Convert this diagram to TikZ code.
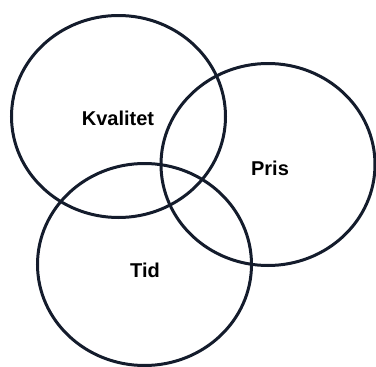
\documentclass[tikz,border=0pt]{standalone}
\usepackage{fontspec}
\setmainfont{Liberation Sans}
\usetikzlibrary{shapes.geometric}
\definecolor{ringcol}{HTML}{141C2C}
\tikzset{
  ring/.style={draw=ringcol, line width=3pt, ellipse, minimum width=214pt, minimum height=202pt, inner sep=0pt},
  lbl/.style={font=\fontsize{20}{20}\selectfont\bfseries, inner sep=0pt}
}
\begin{document}
\begin{tikzpicture}[x=1pt,y=-1pt]
\useasboundingbox (0,0) rectangle (376,367);
\node[ring] (kval) at (118.5,116.5) {};
\node[ring] (pris) at (268,164.5) {};
\node[ring] (tid) at (144.5,264.5) {};
\node[lbl] (tk) at (118,118) {Kvalitet};
\node[lbl] (tp) at (270,168) {Pris};
\node[lbl] (tt) at (145,270) {Tid};
\end{tikzpicture}
\end{document}
